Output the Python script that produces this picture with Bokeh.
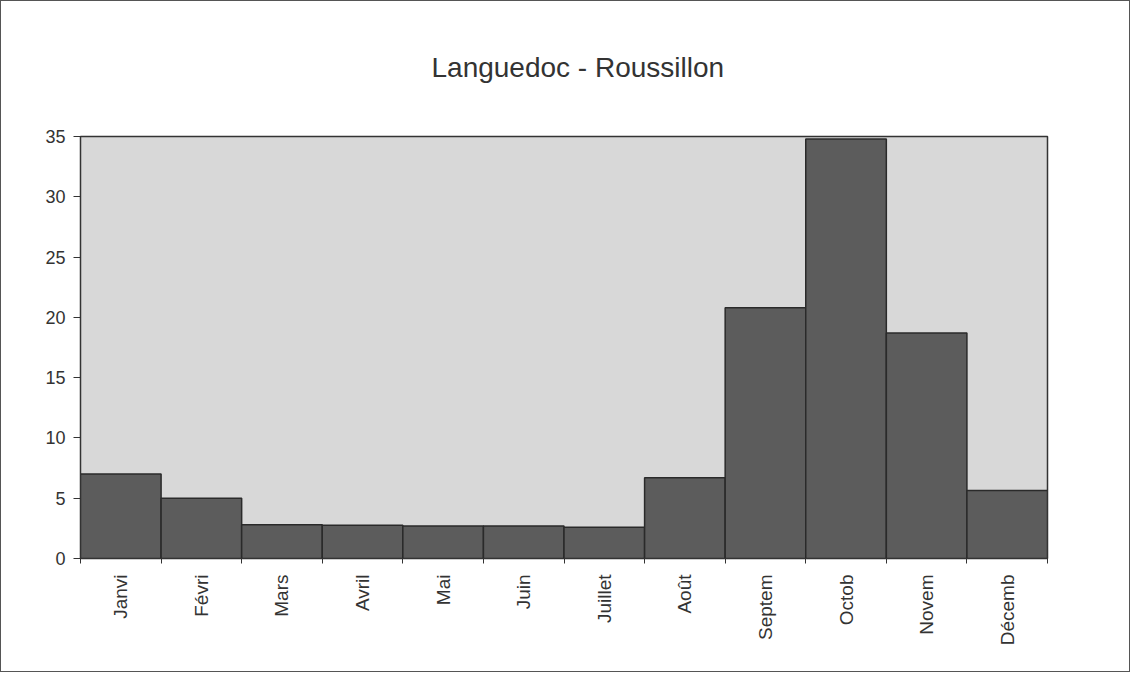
import math
from bokeh.plotting import figure
from bokeh.models import FixedTicker, Range1d, Title
from bokeh.embed import file_html
from bokeh.resources import INLINE

# ---- data ----
months = ["Janvi", "Févri", "Mars", "Avril", "Mai", "Juin", "Juillet",
          "Août", "Septem", "Octob", "Novem", "Décemb"]
values = [7.0, 5.0, 2.8, 2.75, 2.7, 2.7, 2.6, 6.7, 20.8, 34.8, 18.7, 5.65]
y_ticks = [0, 5, 10, 15, 20, 25, 30, 35]
title_text = "Languedoc - Roussillon"

FONT = "Liberation Sans"
n = len(months)
lefts = list(range(n))
rights = [i + 1 for i in range(n)]
centers = [i + 0.5 for i in range(n)]

p = figure(width=1130, height=672, output_backend="svg", toolbar_location=None,
           x_range=Range1d(0, n), y_range=Range1d(0, 35),
           min_border_left=79, min_border_right=84, min_border_top=40,
           min_border_bottom=115,
           styles={"border": "1px solid #555555"})

# spacer (closest to frame), main title, then spacer on top
p.add_layout(Title(text=" ", text_font_size="33px"), "above")
p.add_layout(Title(text=title_text, align="left", offset=351, text_font=FONT,
                   text_font_size="28px", text_font_style="normal",
                   text_color="#333333"), "above")
p.add_layout(Title(text=" ", text_font_size="28px"), "above")

p.background_fill_color = "#d8d8d8"
p.border_fill_color = "white"
p.outline_line_color = "#333333"
p.outline_line_width = 1.5
p.xgrid.visible = False
p.ygrid.visible = False

p.quad(left=lefts, right=rights, bottom=0, top=values,
       fill_color="#5c5c5c", line_color="#2a2a2a", line_width=1.5)

# x axis: labels at centres, tick marks at boundaries (minor ticks)
p.xaxis.ticker = FixedTicker(ticks=centers, minor_ticks=list(range(n + 1)))
p.xaxis.major_label_overrides = {c: m for c, m in zip(centers, months)}
p.xaxis.major_tick_line_color = None
p.xaxis.minor_tick_in = 0
p.xaxis.minor_tick_out = 5
p.xaxis.minor_tick_line_color = "#333333"
p.xaxis.major_label_orientation = math.pi / 2
p.xaxis.major_label_standoff = 10
p.xaxis.axis_line_color = "#333333"
p.xaxis.major_label_text_font_size = "19px"

p.yaxis.ticker = FixedTicker(ticks=y_ticks, minor_ticks=[])
p.yaxis.major_tick_in = 0
p.yaxis.major_tick_out = 7
p.yaxis.axis_line_color = "#333333"
p.yaxis.major_tick_line_color = "#333333"
p.yaxis.major_label_standoff = 8
p.yaxis.major_label_text_font_size = "18px"

for ax in (p.xaxis, p.yaxis):
    ax.major_label_text_font = FONT
    ax.major_label_text_color = "#333333"

open("out.html", "w").write(file_html(p, INLINE))
